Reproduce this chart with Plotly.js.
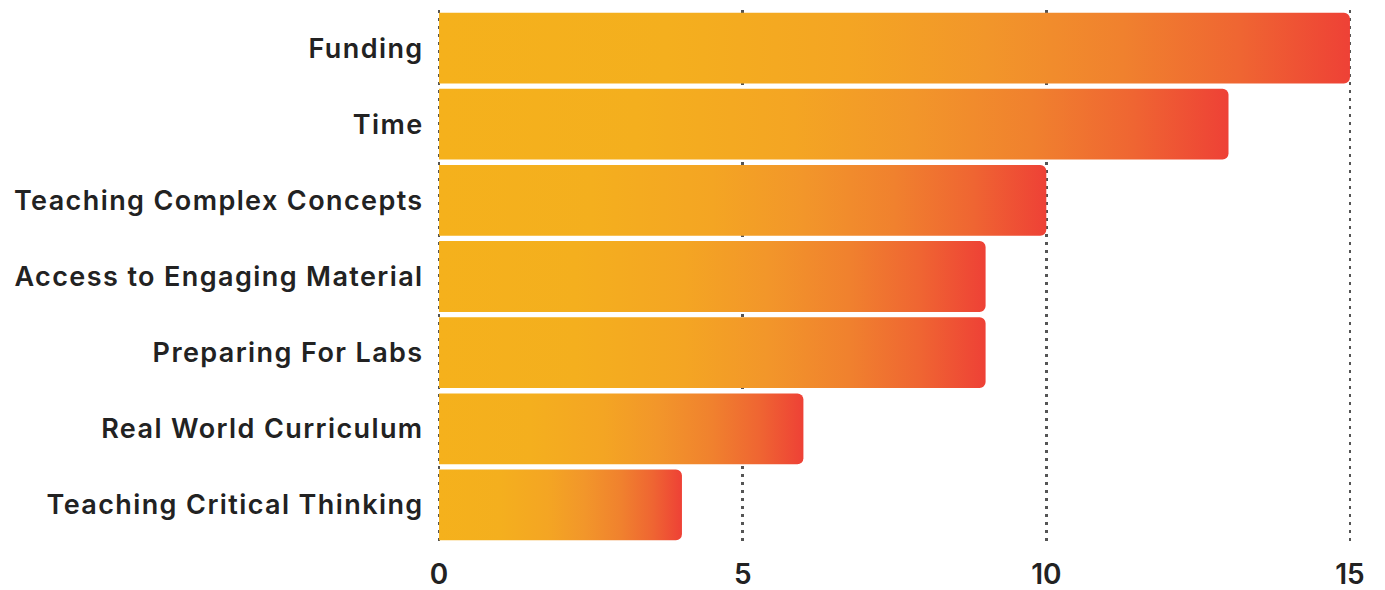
<!DOCTYPE html>
<html>
<head>
<meta charset="utf-8">
<script src="https://cdn.plot.ly/plotly-3.0.1.min.js"></script>
<style>
  html, body { margin: 0; padding: 0; background: #ffffff; }
  #chart { width: 1385px; height: 590px; }
  /* slightly open tracking on the category labels */
  #chart .ytick text { letter-spacing: 1.4px; }
</style>
</head>
<body>
<div id="chart"></div>
<script>
// Challenges reported, listed top to bottom
const categories = [
  "Funding",
  "Time",
  "Teaching Complex Concepts",
  "Access to Engaging Material",
  "Preparing For Labs",
  "Real World Curriculum",
  "Teaching Critical Thinking"
];
const counts = [15, 13, 10, 9, 9, 6, 4];
const xTicks = [0, 5, 10, 15];

// Warm gradient used along each bar, from its base to its tip
const gradientStops = [
  { offset: "0%",   color: "#F5B11C" },
  { offset: "25%",  color: "#F4AF1E" },
  { offset: "45%",  color: "#F4A523" },
  { offset: "60%",  color: "#F2962A" },
  { offset: "75%",  color: "#F0812E" },
  { offset: "88%",  color: "#EF6532" },
  { offset: "100%", color: "#EE4136" }
];

const trace = {
  type: "bar",
  orientation: "h",
  y: categories,
  x: counts,
  marker: { color: "#F5B11C", cornerradius: 6, line: { width: 0 } },
  hoverinfo: "y+x"
};

const fontFamily = "Inter, 'Liberation Sans', Arial, sans-serif";

const layout = {
  width: 1385,
  height: 590,
  margin: { l: 436, r: 32, t: 10, b: 47 },
  paper_bgcolor: "#ffffff",
  plot_bgcolor: "#ffffff",
  bargap: 0.07,
  showlegend: false,
  xaxis: {
    // a hair of padding keeps the 0 and 15 gridlines from being trimmed at the edges
    range: [-0.05, 15.05],
    tickvals: xTicks,
    ticktext: xTicks.map(String),
    showgrid: true,
    gridcolor: "#555555",
    gridwidth: 2.5,
    griddash: "3px,5px",
    zeroline: false,
    showline: false,
    ticks: "outside",
    ticklen: 6,
    tickcolor: "rgba(0,0,0,0)",
    tickfont: { family: fontFamily, size: 28, color: "#222222", weight: 600 },
    fixedrange: true
  },
  yaxis: {
    autorange: "reversed",
    showgrid: false,
    zeroline: false,
    showline: false,
    ticks: "outside",
    ticklen: 6,
    tickcolor: "rgba(0,0,0,0)",
    tickfont: { family: fontFamily, size: 27, color: "#222222", weight: 600 },
    fixedrange: true
  }
};

Plotly.newPlot("chart", [trace], layout, { displayModeBar: false, staticPlot: true }).then(function (gd) {
  // Paint every bar with the shared gradient, scaled to its own length
  const svgNS = "http://www.w3.org/2000/svg";
  const defs = gd.querySelector(".main-svg defs");
  const grad = document.createElementNS(svgNS, "linearGradient");
  grad.setAttribute("id", "barGradient");
  grad.setAttribute("x1", "0");
  grad.setAttribute("y1", "0");
  grad.setAttribute("x2", "1");
  grad.setAttribute("y2", "0");
  gradientStops.forEach(function (s) {
    const stop = document.createElementNS(svgNS, "stop");
    stop.setAttribute("offset", s.offset);
    stop.setAttribute("stop-color", s.color);
    grad.appendChild(stop);
  });
  defs.appendChild(grad);
  gd.querySelectorAll(".barlayer .point path").forEach(function (p) {
    p.style.fill = "url(#barGradient)";
  });
});
</script>
</body>
</html>
